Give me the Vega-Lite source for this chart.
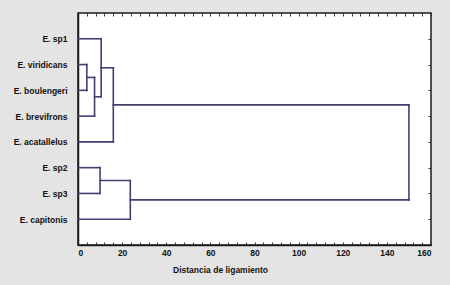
{
  "$schema": "https://vega.github.io/schema/vega-lite/v6.json",
  "autosize": {"type": "none"},
  "width": 353,
  "height": 232,
  "padding": {"left": 78, "top": 13, "right": 19, "bottom": 40},
  "background": "#e4e4e4",
  "config": {
    "view": {"fill": "white", "stroke": "#1a1a1a", "strokeWidth": 1.5},
    "font": "Liberation Sans"
  },
  "data": {
    "values": [
      {"x": 0, "x2": 4, "y": 2, "y2": 2},
      {"x": 0, "x2": 4, "y": 3, "y2": 3},
      {"x": 4, "x2": 4, "y": 2, "y2": 3},
      {"x": 4, "x2": 7.5, "y": 2.5, "y2": 2.5},
      {"x": 0, "x2": 7.5, "y": 4, "y2": 4},
      {"x": 7.5, "x2": 7.5, "y": 2.5, "y2": 4},
      {"x": 0, "x2": 10.5, "y": 1, "y2": 1},
      {"x": 7.5, "x2": 10.5, "y": 3.25, "y2": 3.25},
      {"x": 10.5, "x2": 10.5, "y": 1, "y2": 3.25},
      {"x": 10.5, "x2": 16, "y": 2.125, "y2": 2.125},
      {"x": 0, "x2": 16, "y": 5, "y2": 5},
      {"x": 16, "x2": 16, "y": 2.125, "y2": 5},
      {"x": 0, "x2": 10, "y": 6, "y2": 6},
      {"x": 0, "x2": 10, "y": 7, "y2": 7},
      {"x": 10, "x2": 10, "y": 6, "y2": 7},
      {"x": 10, "x2": 23.7, "y": 6.5, "y2": 6.5},
      {"x": 0, "x2": 23.7, "y": 8, "y2": 8},
      {"x": 23.7, "x2": 23.7, "y": 6.5, "y2": 8},
      {"x": 16, "x2": 150, "y": 3.5625, "y2": 3.5625},
      {"x": 23.7, "x2": 150, "y": 7.25, "y2": 7.25},
      {"x": 150, "x2": 150, "y": 3.5625, "y2": 7.25}
    ]
  },
  "layer": [
    {
      "mark": {"type": "rule", "color": "#40406f", "strokeWidth": 1.6, "strokeCap": "square"},
      "encoding": {
        "x": {
          "field": "x", "type": "quantitative",
          "scale": {"domain": [0, 160], "nice": false, "zero": false},
          "axis": {
            "orient": "bottom",
            "values": [0,4,8,12,16,20,24,28,32,36,40,44,48,52,56,60,64,68,72,76,80,84,88,92,96,100,104,108,112,116,120,124,128,132,136,140,144,148,152,156,160],
            "labelExpr": "datum.value % 20 === 0 ? datum.label : ''",
            "grid": false,
            "domain": true, "domainColor": "#1a1a1a", "domainWidth": 1.5,
            "tickSize": -3, "tickColor": "#333", "tickWidth": 1,
            "labelPadding": 6,
            "labelFontSize": 8.5, "labelColor": "#111", "labelFontWeight": "bold",
            "title": "Distancia de ligamiento",
            "titleX": 142, "titleAlign": "center",
            "titleFontSize": 8.5, "titleFontWeight": "bold", "titleColor": "#111",
            "titlePadding": 9
          }
        },
        "x2": {"field": "x2"},
        "y": {
          "field": "y", "type": "quantitative",
          "scale": {"domain": [0, 9], "reverse": true, "nice": false, "zero": false},
          "axis": {
            "orient": "left",
            "values": [1,2,3,4,5,6,7,8],
            "labelExpr": "['', 'E. sp1', 'E. viridicans', 'E. boulengeri', 'E. brevifrons', 'E. acatallelus', 'E. sp2', 'E. sp3', 'E. capitonis'][datum.value]",
            "grid": false,
            "domain": true, "domainColor": "#1a1a1a", "domainWidth": 1.5,
            "ticks": false,
            "labelPadding": 11,
            "labelFontSize": 8.5, "labelColor": "#111", "labelFontWeight": "bold",
            "title": null
          }
        },
        "y2": {"field": "y2"}
      }
    },
    {
      "mark": {"type": "rule", "opacity": 0},
      "encoding": {
        "x": {
          "field": "x", "type": "quantitative",
          "axis": {
            "orient": "top",
            "values": [0,4,8,12,16,20,24,28,32,36,40,44,48,52,56,60,64,68,72,76,80,84,88,92,96,100,104,108,112,116,120,124,128,132,136,140,144,148,152,156,160],
            "labels": false, "grid": false, "domain": false,
            "tickSize": -3, "tickColor": "#333", "tickWidth": 1,
            "title": null
          }
        },
        "x2": {"field": "x2"},
        "y": {
          "field": "y", "type": "quantitative",
          "axis": {
            "orient": "right",
            "values": [1,2,3,4,5,6,7,8],
            "labels": false, "grid": false, "domain": false,
            "tickSize": -3, "tickColor": "#333", "tickWidth": 1,
            "title": null
          }
        },
        "y2": {"field": "y2"}
      }
    }
  ],
  "resolve": {"axis": {"x": "independent", "y": "independent"}}
}
